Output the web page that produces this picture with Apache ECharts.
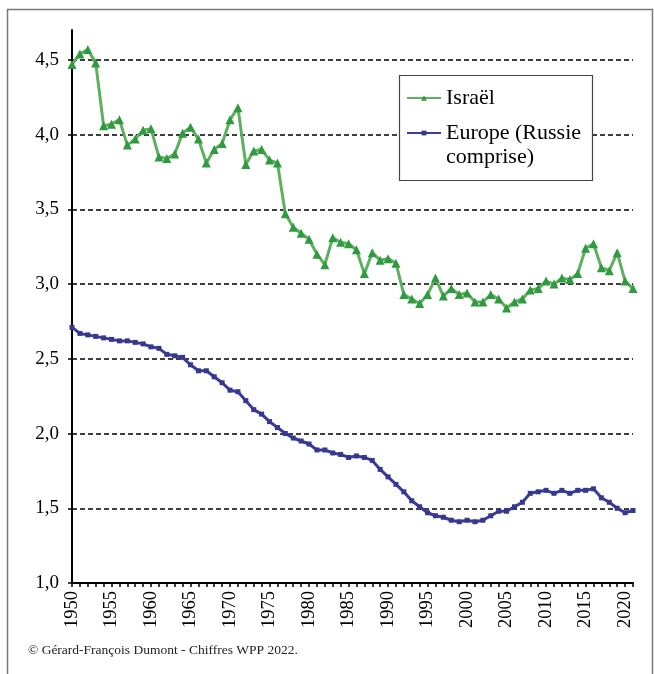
<!DOCTYPE html>
<html>
<head>
<meta charset="utf-8">
<script src="https://cdn.jsdelivr.net/npm/echarts@6/dist/echarts.min.js"></script>
<style>
  html, body { margin: 0; padding: 0; background: #fff; }
  #chart { width: 654px; height: 674px; }
</style>
</head>
<body>
<div id="chart"></div>
<script>
// années 1950 -> 2021
var years = [];
for (var y = 1950; y <= 2021; y++) years.push(String(y));

// indice de fécondité, Israël
var israel = [
  4.47, 4.54, 4.57, 4.48, 4.06, 4.07, 4.10, 3.93, 3.97, 4.03,
  4.04, 3.85, 3.84, 3.87, 4.01, 4.05, 3.97, 3.81, 3.90, 3.94,
  4.10, 4.18, 3.80, 3.89, 3.90, 3.83, 3.81, 3.47, 3.38, 3.34,
  3.30, 3.20, 3.13, 3.31, 3.28, 3.27, 3.23, 3.07, 3.21, 3.16,
  3.17, 3.14, 2.93, 2.90, 2.87, 2.93, 3.04, 2.92, 2.97, 2.93,
  2.94, 2.88, 2.88, 2.93, 2.90, 2.84, 2.88, 2.90, 2.96, 2.97,
  3.02, 3.00, 3.04, 3.03, 3.07, 3.24, 3.27, 3.11, 3.09, 3.21,
  3.02, 2.97
];

// indice de fécondité, Europe (Russie comprise)
var europe = [
  2.71, 2.67, 2.66, 2.65, 2.64, 2.63, 2.62, 2.62, 2.61, 2.60,
  2.58, 2.57, 2.53, 2.52, 2.51, 2.46, 2.42, 2.42, 2.38, 2.34,
  2.29, 2.28, 2.22, 2.16, 2.13, 2.08, 2.04, 2.00, 1.97, 1.95,
  1.93, 1.89, 1.89, 1.87, 1.86, 1.84, 1.85, 1.84, 1.82, 1.76,
  1.71, 1.66, 1.61, 1.55, 1.51, 1.47, 1.45, 1.44, 1.42, 1.41,
  1.42, 1.41, 1.42, 1.45, 1.48, 1.48, 1.51, 1.54, 1.60, 1.61,
  1.62, 1.60, 1.62, 1.60, 1.62, 1.62, 1.63, 1.57, 1.54, 1.50,
  1.47, 1.485
];

var yTicks = [1.0, 1.5, 2.0, 2.5, 3.0, 3.5, 4.0, 4.5];

var serif = "'Liberation Serif', 'Times New Roman', serif";

var chart = echarts.init(document.getElementById('chart'));
var option = {
  animation: false,
  backgroundColor: '#fff',
  textStyle: { fontFamily: serif },
  title: {
    text: '© Gérard-François Dumont - Chiffres WPP 2022.',
    left: 28,
    top: 643,
    padding: 0,
    textStyle: { fontFamily: serif, fontSize: 13.5, fontWeight: 'normal', color: '#222' }
  },
  graphic: [
    {
      type: 'rect', z: 0, silent: true,
      shape: { x: 7.5, y: 9.5, width: 645, height: 700 },
      style: { fill: 'none', stroke: '#777', lineWidth: 1.5 }
    },
    {
      // cadre de la légende
      type: 'rect', z: 3, silent: true,
      shape: { x: 399.5, y: 75.5, width: 193, height: 105 },
      style: { fill: '#fff', stroke: '#444', lineWidth: 1.2 }
    }
  ],
  grid: { left: 72, right: 21, top: 30, bottom: 91 },
  legend: [
    {
      data: ['Israël'],
      left: 406, top: 86, padding: 0, z: 5,
      itemWidth: 34, itemHeight: 7, itemGap: 0,
      textStyle: { fontFamily: serif, fontSize: 22, lineHeight: 24, color: '#000' }
    },
    {
      data: ['Europe (Russie comprise)'],
      left: 406, top: 97, padding: 0, z: 5,
      itemWidth: 34, itemHeight: 6, itemGap: 0,
      // ligne vide au-dessus pour aligner le symbole sur la première ligne
      formatter: function () { return ' \nEurope (Russie\ncomprise)'; },
      textStyle: { fontFamily: serif, fontSize: 22, lineHeight: 24, color: '#000' }
    }
  ],
  xAxis: {
    type: 'category',
    data: years,
    boundaryGap: false,
    axisLine: { lineStyle: { color: '#000', width: 2 } },
    axisTick: { interval: 0, length: 4, lineStyle: { color: '#000', width: 1.5 } },
    axisLabel: {
      interval: 4, rotate: 90, margin: 8,
      fontFamily: serif, fontSize: 18.5, color: '#000'
    },
    splitLine: { show: false }
  },
  yAxis: {
    type: 'value',
    min: 1, max: 4.7, interval: 0.5,
    axisLine: { show: true, lineStyle: { color: '#000', width: 2 } },
    axisTick: { show: true, length: 4, customValues: yTicks, lineStyle: { color: '#000', width: 1.5 } },
    axisLabel: {
      customValues: yTicks,
      margin: 13,
      fontFamily: serif, fontSize: 19, color: '#000',
      formatter: function (v) { return v.toFixed(1).replace('.', ','); }
    },
    splitLine: {
      show: true, showMinLine: false,
      lineStyle: { color: '#000', width: 1.5, type: [5, 3] }
    }
  },
  series: [
    {
      name: 'Israël',
      type: 'line',
      data: israel,
      z: 4,
      showAllSymbol: true,
      symbol: 'triangle',
      symbolSize: 9,
      lineStyle: { color: '#5DB05D', width: 3 },
      itemStyle: { color: '#2F9A3F' }
    },
    {
      name: 'Europe (Russie comprise)',
      type: 'line',
      data: europe,
      z: 4,
      showAllSymbol: true,
      symbol: 'rect',
      symbolSize: 5,
      lineStyle: { color: '#3B3C98', width: 3 },
      itemStyle: { color: '#36378F' }
    }
  ]
};
chart.setOption(option);
</script>
</body>
</html>
